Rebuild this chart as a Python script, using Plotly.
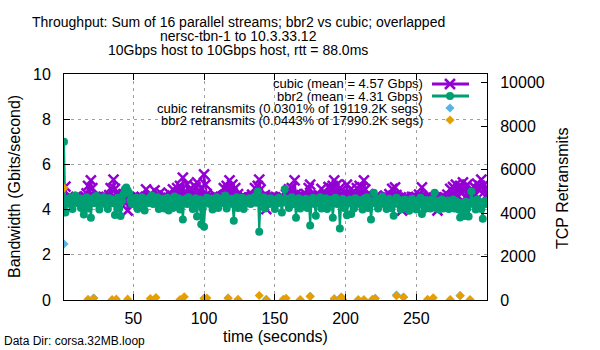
import plotly.graph_objects as go

# ---------------- data ----------------
time_s = list(range(1, 301))

cubic_gbps = [
    4.13, 5.02, 4.49, 4.56, 4.42, 4.55, 4.49, 4.40, 4.49, 4.52,
    4.42, 4.50, 4.44, 4.46, 4.55, 4.59, 4.72, 5.05, 4.56, 5.29,
    4.95, 4.54, 4.56, 4.54, 4.46, 4.45, 4.52, 4.49, 4.54, 4.50,
    4.56, 4.42, 4.64, 4.95, 4.54, 5.33, 4.92, 4.49, 4.72, 4.49,
    4.56, 4.44, 4.69, 4.54, 4.56, 3.96, 4.42, 4.50, 4.49, 4.56,
    4.52, 4.49, 4.56, 4.52, 4.46, 4.54, 4.42, 4.50, 4.89, 4.49,
    4.56, 4.70, 4.49, 4.42, 4.85, 4.52, 4.49, 4.44, 4.75, 4.49,
    4.44, 4.62, 4.56, 4.50, 4.52, 4.69, 4.56, 4.90, 4.54, 4.49,
    4.95, 4.56, 5.05, 4.64, 5.42, 4.72, 4.49, 5.12, 4.59, 4.92,
    4.54, 4.69, 4.54, 5.00, 5.20, 4.62, 4.56, 4.95, 4.54, 5.56,
    5.10, 4.69, 4.56, 4.54, 4.49, 4.55, 4.42, 4.62, 4.52, 4.46,
    4.49, 4.56, 4.54, 4.95, 4.66, 5.05, 4.90, 5.29, 4.69, 5.10,
    4.62, 4.95, 4.54, 4.69, 4.46, 4.54, 4.42, 4.56, 4.54, 4.49,
    4.49, 4.52, 4.54, 4.66, 4.54, 4.95, 4.59, 5.05, 5.33, 4.90,
    4.56, 4.49, 4.64, 4.02, 4.56, 4.52, 4.49, 4.56, 4.54, 4.49,
    4.44, 4.42, 4.49, 4.56, 4.54, 4.54, 4.49, 4.66, 4.49, 4.90,
    4.56, 4.95, 4.64, 5.29, 4.69, 4.56, 4.59, 4.42, 4.54, 4.56,
    4.54, 4.69, 4.56, 4.95, 5.11, 4.62, 4.49, 4.56, 4.42, 4.49,
    4.64, 4.52, 4.92, 4.54, 4.46, 4.69, 4.50, 5.00, 4.62, 4.95,
    5.05, 5.29, 4.72, 5.10, 4.56, 4.95, 4.54, 4.66, 4.49, 4.54,
    5.11, 4.69, 4.54, 4.92, 4.56, 4.64, 4.49, 4.95, 4.56, 5.05,
    4.66, 4.98, 5.29, 4.90, 4.54, 4.69, 4.54, 4.59, 4.46, 4.49,
    4.52, 4.44, 4.46, 4.49, 4.42, 4.49, 4.56, 4.62, 4.44, 4.54,
    4.69, 4.56, 4.92, 4.59, 4.98, 4.64, 4.49, 4.46, 4.54, 3.96,
    4.49, 4.54, 4.52, 4.49, 4.44, 4.42, 4.56, 4.54, 4.52, 4.56,
    4.44, 4.66, 4.49, 4.98, 4.54, 4.42, 4.50, 4.49, 4.56, 4.44,
    4.44, 4.52, 4.54, 4.49, 3.96, 4.46, 4.49, 4.56, 4.42, 4.54,
    4.52, 4.66, 4.49, 4.92, 4.59, 5.00, 4.69, 5.10, 4.64, 4.95,
    5.05, 4.72, 5.20, 4.95, 4.56, 5.10, 4.69, 4.49, 4.90, 4.62,
    5.00, 4.66, 5.15, 4.92, 5.05, 5.33, 4.72, 5.10, 4.59, 4.95,
]

bbr2_gbps = [
    7.00, 3.87, 4.25, 4.48, 4.30, 4.55, 4.03, 4.40, 4.62, 4.35,
    4.28, 4.50, 4.07, 4.45, 3.78, 4.38, 4.55, 4.05, 4.42, 3.64,
    4.35, 4.52, 4.28, 4.60, 4.40, 4.00, 4.48, 4.32, 4.55, 4.25,
    4.42, 4.03, 4.50, 4.36, 4.28, 4.45, 3.76, 4.30, 4.52, 4.05,
    3.72, 4.38, 4.67, 4.90, 4.98, 4.85, 4.74, 4.40, 4.25, 4.48,
    4.30, 4.52, 4.03, 4.42, 4.35, 4.55, 4.07, 3.96, 4.40, 4.28,
    4.50, 4.35, 4.62, 4.25, 4.45, 4.30, 4.55, 4.03, 4.42, 4.33,
    4.48, 4.05, 4.38, 4.52, 3.96, 4.30, 4.45, 4.07, 4.58, 4.35,
    4.28, 4.50, 4.00, 4.40, 3.56, 4.32, 4.48, 4.25, 4.55, 4.30,
    4.42, 4.03, 4.35, 4.50, 3.70, 4.28, 4.45, 3.35, 4.05, 3.24,
    4.30, 4.52, 4.38, 4.25, 4.48, 4.00, 4.40, 4.32, 4.55, 4.07,
    4.45, 4.28, 4.50, 4.35, 4.62, 4.05, 4.42, 4.30, 4.48, 4.25,
    3.51, 4.38, 4.55, 4.07, 4.40, 4.30, 4.52, 4.03, 4.45, 4.35,
    4.28, 4.50, 4.25, 4.42, 4.35, 4.58, 4.30, 4.80, 3.02, 4.45,
    4.32, 4.55, 4.05, 4.48, 4.38, 4.25, 4.50, 4.30, 4.42, 4.03,
    4.45, 4.28, 4.52, 4.35, 3.87, 4.40, 4.90, 4.30, 4.48, 4.07,
    4.38, 4.55, 4.25, 4.45, 3.64, 4.32, 4.50, 4.05, 4.42, 4.35,
    4.28, 4.48, 4.07, 4.40, 3.30, 4.35, 4.52, 4.25, 3.73, 4.45,
    4.30, 4.55, 4.05, 4.42, 4.32, 4.50, 4.03, 4.38, 4.28, 4.45,
    3.64, 4.35, 4.52, 4.25, 4.40, 3.16, 4.30, 4.48, 4.07, 4.38,
    3.75, 4.28, 4.45, 3.80, 4.35, 4.05, 4.50, 4.30, 4.42, 4.25,
    4.38, 4.00, 4.48, 4.30, 4.55, 4.07, 4.40, 3.56, 4.35, 4.75,
    4.28, 4.50, 4.05, 4.45, 4.32, 4.58, 4.25, 4.40, 4.03, 4.35,
    4.48, 4.07, 4.38, 3.73, 4.30, 4.52, 4.25, 4.42, 4.00, 4.35,
    4.28, 4.45, 4.05, 4.38, 3.95, 4.30, 4.48, 4.07, 4.35, 4.00,
    4.40, 4.25, 4.52, 3.80, 4.30, 4.03, 4.42, 4.28, 4.35, 4.05,
    4.45, 4.30, 4.75, 4.07, 4.38, 4.00, 4.30, 4.45, 4.05, 4.35,
    4.28, 4.40, 4.03, 4.32, 4.25, 4.45, 4.05, 4.38, 4.30, 4.00,
    3.65, 4.28, 3.95, 3.72, 4.35, 4.05, 3.70, 4.30, 4.80, 4.25,
    4.38, 4.00, 4.45, 4.07, 4.30, 4.03, 3.60, 4.35, 4.25, 4.40,
]

cubic_retx_time = [1, 22, 100, 117, 144, 175, 192, 197, 221, 236, 241, 281]
cubic_retx = [2580, 90, 70, 90, 30, 170, 60, 140, 80, 230, 140, 200]

bbr2_retx_time = [1, 18, 22, 35, 38, 46, 62, 66, 83, 86, 100, 102, 117, 124,
                  139, 144, 156, 158, 168, 175, 192, 197, 198, 209, 213, 219,
                  221, 236, 241, 258, 262, 274, 281, 288]
bbr2_retx = [5150, 30, 80, 20, 40, 40, 70, 110, 20, 150, 80, 90, 80, 30,
             210, 10, 30, 80, 20, 160, 50, 130, 10, 20, 20, 30,
             70, 190, 130, 30, 100, 20, 200, 20]

x_ticks = [50, 100, 150, 200, 250]
y_ticks = [0, 2, 4, 6, 8, 10]
y2_ticks = [0, 2000, 4000, 6000, 8000, 10000]

title_lines = [
    "Throughput: Sum of 16 parallel streams; bbr2 vs cubic; overlapped",
    "nersc-tbn-1 to 10.3.33.12",
    "10Gbps host to 10Gbps host, rtt = 88.0ms",
]
legend_labels = [
    "cubic (mean = 4.57 Gbps)",
    "bbr2 (mean = 4.31 Gbps)",
    "cubic retransmits (0.0301% of 19119.2K segs)",
    "bbr2 retransmits (0.0443% of 17990.2K segs)",
]

# ---------------- style ----------------
C_CUBIC = "#9400D3"
C_BBR2 = "#009E73"
C_CRET = "#56B4E9"
C_BRET = "#E69F00"
FONT = "Liberation Sans, Arial, sans-serif"

W, H = 600, 350
L, R, T, B = 64, 113, 74, 50
PW, PH = W - L - R, H - T - B


def px(x):
    return (x - L) / PW


def py(y):
    return (H - B - y) / PH


fig = go.Figure()

fig.add_trace(go.Scatter(
    x=time_s, y=cubic_gbps, mode="lines+markers",
    line=dict(color=C_CUBIC, width=2),
    marker=dict(symbol="x-thin", size=10, line=dict(color=C_CUBIC, width=2.5)),
    showlegend=False))
fig.add_trace(go.Scatter(
    x=time_s, y=bbr2_gbps, mode="lines+markers",
    line=dict(color=C_BBR2, width=2),
    marker=dict(symbol="circle", size=8, color=C_BBR2),
    showlegend=False))
fig.add_trace(go.Scatter(
    x=cubic_retx_time, y=cubic_retx, mode="markers", yaxis="y2",
    marker=dict(symbol="diamond", size=7, color=C_CRET),
    showlegend=False))
fig.add_trace(go.Scatter(
    x=bbr2_retx_time, y=bbr2_retx, mode="markers", yaxis="y2",
    marker=dict(symbol="diamond", size=7, color=C_BRET),
    showlegend=False))

# legend key samples (gnuplot style: text then sample on the right)
rows_y = [84, 96, 108, 120]
key_x0, key_x1, key_xm = 432, 469, 450
fig.add_trace(go.Scatter(x=[key_x0, key_x1], y=[rows_y[0]] * 2, mode="lines",
                         line=dict(color=C_CUBIC, width=3), xaxis="x3", yaxis="y3",
                         showlegend=False, hoverinfo="skip"))
fig.add_trace(go.Scatter(x=[key_xm], y=[rows_y[0]], mode="markers",
                         marker=dict(symbol="x-thin", size=10, line=dict(color=C_CUBIC, width=2.5)),
                         xaxis="x3", yaxis="y3", showlegend=False, hoverinfo="skip"))
fig.add_trace(go.Scatter(x=[key_x0, key_x1], y=[rows_y[1]] * 2, mode="lines",
                         line=dict(color=C_BBR2, width=3), xaxis="x3", yaxis="y3",
                         showlegend=False, hoverinfo="skip"))
fig.add_trace(go.Scatter(x=[key_xm], y=[rows_y[1]], mode="markers",
                         marker=dict(symbol="circle", size=8, color=C_BBR2),
                         xaxis="x3", yaxis="y3", showlegend=False, hoverinfo="skip"))
fig.add_trace(go.Scatter(x=[key_xm], y=[rows_y[2]], mode="markers",
                         marker=dict(symbol="diamond", size=7, color=C_CRET),
                         xaxis="x3", yaxis="y3", showlegend=False, hoverinfo="skip"))
fig.add_trace(go.Scatter(x=[key_xm], y=[rows_y[3]], mode="markers",
                         marker=dict(symbol="diamond", size=7, color=C_BRET),
                         xaxis="x3", yaxis="y3", showlegend=False, hoverinfo="skip"))

grid = dict(showgrid=True, gridcolor="#a0a0a0", gridwidth=1, griddash="3px,4px")
tickfont = dict(family=FONT, size=16, color="black")

fig.update_layout(
    width=W, height=H,
    margin=dict(l=L, r=R, t=T, b=B, pad=0),
    paper_bgcolor="white", plot_bgcolor="white",
    font=dict(family=FONT, color="black"),
    xaxis=dict(range=[1, 300], tickvals=x_ticks, ticks="inside", ticklen=6,
               tickcolor="black", showline=True, linecolor="black", linewidth=1,
               mirror="ticks", zeroline=False, tickfont=tickfont,
               ticklabelstandoff=4, **grid),
    yaxis=dict(range=[0, 10], tickvals=y_ticks, ticks="inside", ticklen=6,
               tickcolor="black", showline=True, linecolor="black", linewidth=1,
               mirror=True, zeroline=False, tickfont=tickfont,
               ticklabelstandoff=9, **grid),
    yaxis2=dict(range=[0, 10400], tickvals=y2_ticks, tickformat="d",
                overlaying="y", side="right",
                ticks="inside", ticklen=6, tickcolor="black", showline=True,
                linecolor="black", linewidth=1, showgrid=False, zeroline=False,
                tickfont=tickfont, ticklabelstandoff=9),
    xaxis3=dict(range=[L, L + PW], overlaying="x", visible=False, anchor="y3"),
    yaxis3=dict(range=[H - B, T], overlaying="y", visible=False, anchor="x3"),
)

# opaque key box (covers grid)
fig.add_shape(type="rect", xref="paper", yref="paper",
              x0=px(152), x1=px(478), y0=py(126), y1=py(77),
              fillcolor="white", line=dict(width=0), layer="between")

ann = []
for line, yc in zip(title_lines, [22, 36, 50]):
    ann.append(dict(text=line, x=px(238), y=py(yc), xref="paper", yref="paper",
                    xanchor="center", yanchor="middle", showarrow=False,
                    font=dict(family=FONT, size=14)))
for lab, yc in zip(legend_labels, rows_y):
    ann.append(dict(text=lab, x=px(425), y=py(yc), xref="paper", yref="paper",
                    xanchor="right", yanchor="middle", showarrow=False,
                    font=dict(family=FONT, size=13)))
ann.append(dict(text="time (seconds)", x=px(275), y=py(336), xref="paper", yref="paper",
                xanchor="center", yanchor="middle", showarrow=False,
                font=dict(family=FONT, size=16)))
ann.append(dict(text="Bandwidth (Gbits/second)", x=px(14), y=py(187), xref="paper",
                yref="paper", xanchor="center", yanchor="middle", showarrow=False,
                textangle=-90, font=dict(family=FONT, size=16)))
ann.append(dict(text="TCP Retransmits", x=px(562), y=py(188), xref="paper",
                yref="paper", xanchor="center", yanchor="middle", showarrow=False,
                textangle=-90, font=dict(family=FONT, size=16)))
ann.append(dict(text="Data Dir: corsa.32MB.loop", x=px(2), y=py(341), xref="paper",
                yref="paper", xanchor="left", yanchor="middle", showarrow=False,
                font=dict(family=FONT, size=12)))
fig.update_layout(annotations=ann)

fig.write_html("out.html")
